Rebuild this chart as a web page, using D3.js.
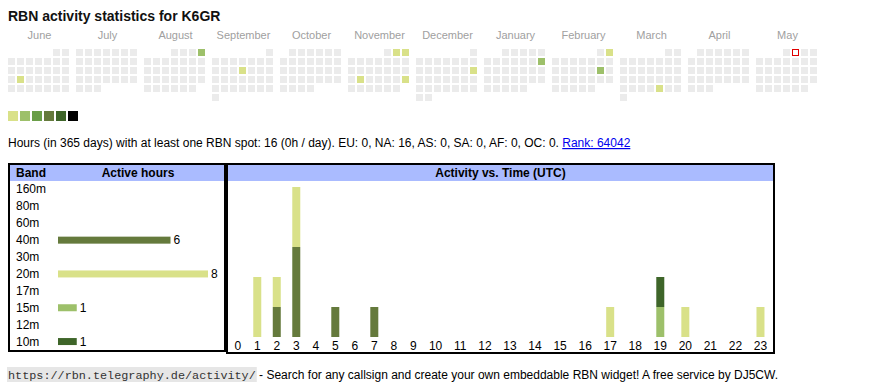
<!DOCTYPE html>
<html><head><meta charset="utf-8">
<script src="https://cdn.jsdelivr.net/npm/d3@7"></script>
<style>
html,body{margin:0;padding:0;background:#fff;}
svg{display:block;font-family:"Liberation Sans",Arial,sans-serif;}
text{white-space:pre;}
</style></head>
<body><svg id="c" width="870" height="390"></svg>
<script>
// ---------- DATA ----------
const title = "RBN activity statistics for K6GR";
const monthNames = ["June","July","August","September","October","November","December","January","February","March","April","May"];
const monthStarts = ["2024-06-01","2024-07-01","2024-08-01","2024-09-01","2024-10-01","2024-11-01","2024-12-01","2025-01-01","2025-02-01","2025-03-01","2025-04-01","2025-05-01"];
const activeDates = ["2024-06-18","2024-08-04","2024-09-12","2024-11-02","2024-11-03","2024-11-19","2024-11-24","2024-12-15","2025-01-12","2025-02-02","2025-02-15","2025-03-28"];
const activeLevels = [1,2,1,1,1,1,1,1,2,1,2,1];
const today = "2025-05-02";
const levelColors = ["#d9e189","#9dc06a","#6a9e48","#657a3c","#3e6529","#000000"];
const statsText = "Hours (in 365 days) with at least one RBN spot: 16 (0h / day). EU: 0, NA: 16, AS: 0, SA: 0, AF: 0, OC: 0. ";
const rankText = "Rank: 64042";
const bands = ["160m","80m","60m","40m","30m","20m","17m","15m","12m","10m"];
const bandHours = [0,0,0,6,0,8,0,1,0,1];
const bandColors = {"40m":"#657a3c","20m":"#d9e189","15m":"#9dc06a","10m":"#3e6529"};
const hours = d3.range(24);
const hourly40m = [0,0,1,3,0,1,0,1,0,0,0,0,0,0,0,0,0,0,0,0,0,0,0,0];
const hourly20m = [0,2,1,2,0,0,0,0,0,0,0,0,0,0,0,0,0,1,0,0,1,0,0,1];
const hourly15m = [0,0,0,0,0,0,0,0,0,0,0,0,0,0,0,0,0,0,0,1,0,0,0,0];
const hourly10m = [0,0,0,0,0,0,0,0,0,0,0,0,0,0,0,0,0,0,0,1,0,0,0,0];
const footerUrl = "https://rbn.telegraphy.de/activity/";
const footerText = " - Search for any callsign and create your own embeddable RBN widget! A free service by DJ5CW.";

// ---------- DRAW ----------
const svg = d3.select("#c");
const parse = d3.utcParse("%Y-%m-%d");
const fmt = d3.utcFormat("%Y-%m-%d");
const FS = 12;

svg.append("text").attr("x",8).attr("y",21).attr("font-size",14).attr("font-weight","bold").attr("fill","#111").text(title);

// calendar
const monthX = d3.scaleBand().domain(d3.range(12)).range([8, 8+12*68-5]).paddingInner(5/68).paddingOuter(0);
const colX = d3.scaleLinear().domain([0,1]).range([0,9]);
const rowY = d3.scaleLinear().domain([0,1]).range([49,58]);
const levelByDate = new Map(activeDates.map((d,i)=>[d,activeLevels[i]]));

svg.append("g").selectAll("text").data(monthNames).join("text")
  .attr("x",(d,i)=>monthX(i)+monthX.bandwidth()/2).attr("y",39)
  .attr("text-anchor","middle").attr("font-size",11).attr("fill","#a0a0a0").text(d=>d);

const cells = [];
monthStarts.forEach((ms,mi)=>{
  const start = parse(ms);
  const end = d3.utcMonth.offset(start,1);
  const offset = (start.getUTCDay()+6)%7;
  d3.utcDays(start,end).forEach(day=>{
    const dom = day.getUTCDate()-1;
    const col = (day.getUTCDay()+6)%7;
    const row = Math.floor((dom+offset)/7);
    const key = fmt(day);
    cells.push({mi,col,row,key,level:levelByDate.get(key)||0});
  });
});
svg.append("g").selectAll("rect").data(cells).join("rect")
  .attr("x",d=>monthX(d.mi)+colX(d.col)).attr("y",d=>rowY(d.row))
  .attr("width",7).attr("height",7)
  .attr("fill",d=>d.key===today?"#ffffff":(d.level?levelColors[d.level-1]:"#ebebeb"));
const tcell = cells.find(d=>d.key===today);
svg.append("rect").attr("x",monthX(tcell.mi)+colX(tcell.col)+0.5).attr("y",rowY(tcell.row)+0.5)
  .attr("width",6).attr("height",6).attr("fill","none").attr("stroke","#e00000").attr("stroke-width",1);

// legend
const legX = d3.scaleLinear().domain([0,1]).range([8,20]);
svg.append("g").selectAll("rect").data(levelColors).join("rect")
  .attr("x",(d,i)=>legX(i)).attr("y",111).attr("width",10).attr("height",10).attr("fill",d=>d);

// stats
const st = svg.append("text").attr("x",8).attr("y",147).attr("font-size",FS).attr("fill","#000");
st.append("tspan").text(statsText);
st.append("tspan").attr("fill","#0000ee").attr("text-decoration","underline").text(rankText);

// band box
const lb = svg.append("g");
lb.append("rect").attr("x",10).attr("y",165).attr("width",214).attr("height",16).attr("fill","#aabbff");
lb.append("rect").attr("x",9).attr("y",164).attr("width",216).attr("height",187).attr("fill","none").attr("stroke","#000").attr("stroke-width",2);
lb.append("text").attr("x",16).attr("y",177).attr("font-size",FS).attr("font-weight","bold").text("Band");
lb.append("text").attr("x",138).attr("y",177).attr("font-size",FS).attr("font-weight","bold").attr("text-anchor","middle").text("Active hours");
const bandY = d3.scaleBand().domain(bands).range([181,350]);
const hx = d3.scaleLinear().domain([0,8]).range([58,208]);
lb.selectAll(".bl").data(bands).join("text").attr("class","bl")
  .attr("x",16).attr("y",d=>bandY(d)+bandY.bandwidth()/2+4).attr("font-size",FS).text(d=>d);
const bandData = bands.map((b,i)=>({b,v:bandHours[i]})).filter(d=>d.v>0);
lb.selectAll(".bb").data(bandData).join("rect").attr("class","bb")
  .attr("x",hx(0)).attr("y",d=>bandY(d.b)+bandY.bandwidth()/2-3.5).attr("height",7)
  .attr("width",d=>hx(d.v)-hx(0)).attr("fill",d=>bandColors[d.b]);
lb.selectAll(".bv").data(bandData).join("text").attr("class","bv")
  .attr("x",d=>hx(d.v)+3).attr("y",d=>bandY(d.b)+bandY.bandwidth()/2+4).attr("font-size",FS).text(d=>d.v);

// activity box
const rb = svg.append("g");
rb.append("rect").attr("x",228).attr("y",165).attr("width",545).attr("height",16).attr("fill","#aabbff");
rb.append("rect").attr("x",227).attr("y",164).attr("width",547).attr("height",189).attr("fill","none").attr("stroke","#000").attr("stroke-width",2);
rb.append("text").attr("x",500.5).attr("y",177).attr("font-size",FS).attr("font-weight","bold").attr("text-anchor","middle").text("Activity vs. Time (UTC)");

// hour label positions like an auto-width table row
const meas = svg.append("text").attr("font-size",FS).attr("visibility","hidden");
const tw = hours.map(h=>{meas.text(String(h));return meas.node().getComputedTextLength();});
meas.remove();
const raw = tw.map(w=>w+16.8);
const total = d3.sum(raw);
const innerW = 545, x0 = 228;
let acc = 0;
const centers = raw.map(r=>{const c = x0 + (acc + r/2)*innerW/total; acc += r; return c;});
const hourX = d3.scaleOrdinal().domain(hours).range(centers);
const yv = d3.scaleLinear().domain([0,5]).range([337,187]);

rb.selectAll(".hl").data(hours).join("text").attr("class","hl")
  .attr("x",d=>hourX(d)).attr("y",350).attr("text-anchor","middle").attr("font-size",FS).text(d=>d);

const table = hours.map((h,i)=>({hour:h,"40m":hourly40m[i],"20m":hourly20m[i],"15m":hourly15m[i],"10m":hourly10m[i]}));
const stackKeys = ["40m","20m","15m","10m"];
const series = d3.stack().keys(stackKeys)(table);
rb.selectAll(".ser").data(series).join("g").attr("class","ser").attr("fill",s=>bandColors[s.key])
  .selectAll("rect").data(s=>s.filter(p=>p[1]>p[0])).join("rect")
  .attr("x",p=>hourX(p.data.hour)-4).attr("width",8)
  .attr("y",p=>yv(p[1])).attr("height",p=>yv(p[0])-yv(p[1]));

// footer
const fg = svg.append("g");
const fbg = fg.append("rect").attr("fill","#e6e6e6");
const fu = fg.append("text").attr("x",8).attr("y",379).attr("font-family","'Liberation Mono',monospace").attr("font-size",11.8).attr("fill","#333").text(footerUrl);
const bb = fu.node().getBBox();
fbg.attr("x",bb.x-1).attr("y",367).attr("width",bb.width+2).attr("height",15);
fg.append("text").attr("x",bb.x+bb.width).attr("y",379).attr("font-size",FS).attr("fill","#000").text(footerText);
</script></body></html>
